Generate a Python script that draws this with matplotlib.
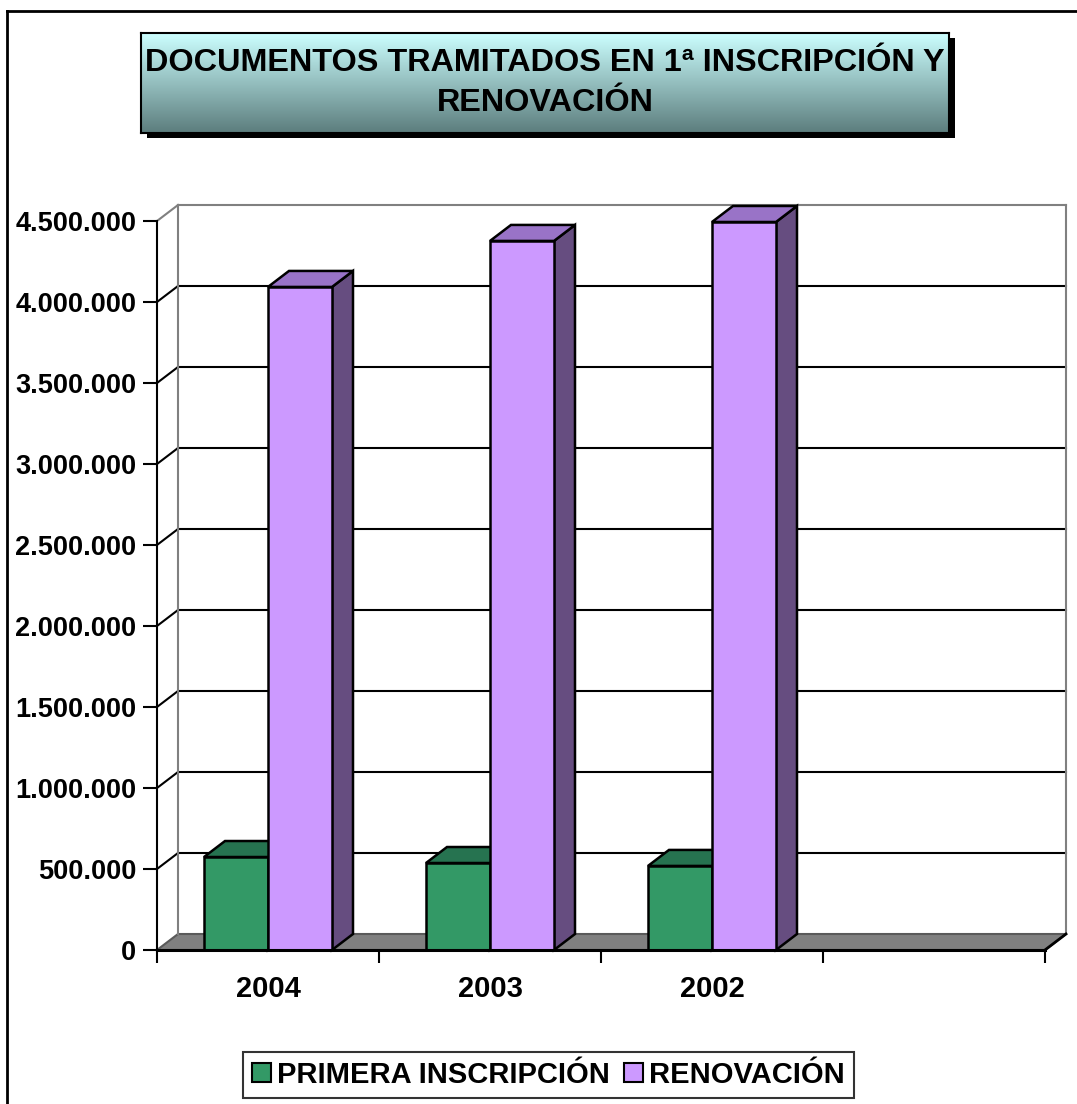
import matplotlib.pyplot as plt
import numpy as np
from matplotlib.patches import Polygon, Rectangle, Patch
from matplotlib.lines import Line2D

plt.rcParams['font.family'] = ['Liberation Sans', 'DejaVu Sans']
plt.rcParams['font.weight'] = 'bold'

categories = ['2004', '2003', '2002', '']
primera = [574000, 537000, 519000]
renovacion = [4093000, 4377000, 4494000]
y_ticks = np.arange(0, 4500001, 500000)
series_names = ['PRIMERA INSCRIPCIÓN', 'RENOVACIÓN']
title = 'DOCUMENTOS TRAMITADOS EN 1ª INSCRIPCIÓN Y\nRENOVACIÓN'

# front / top / side colours for each series
GREEN = ('#339966', '#267350', '#1F5F40')
PURPLE = ('#CC99FF', '#9973C7', '#664D80')
WALL = '#808080'

W, H = 1077, 1104
fig = plt.figure(figsize=(W / 100, H / 100), dpi=100)


def fx(px):
    return px / W


def fy(py):
    return 1 - py / H


# plot area (front plane)
left, right, top, bottom = 157, 1045, 221, 950
ax = fig.add_axes([fx(left), fy(bottom), (right - left) / W, (bottom - top) / H])
n = len(categories)
ymax = y_ticks[-1]
ax.set_xlim(0, n)
ax.set_ylim(0, ymax)

# depth of the box: 21 px to the right, 16 px up
DX = 21 / (right - left) * n
DY = 16 / (bottom - top) * ymax

# floor
floor = Polygon([(0, 0), (n, 0), (n + DX, DY), (DX, DY)], closed=True,
                facecolor=WALL, edgecolor='#5a5a5a', lw=1.5, zorder=1, clip_on=False)
ax.add_patch(floor)
ax.plot([n, n + DX], [0, DY], color='black', lw=2, zorder=2, clip_on=False)

# back wall gridlines and side wall diagonals
for v in y_ticks[1:]:
    c = WALL if v == ymax else 'black'
    ax.plot([DX, n + DX], [v + DY, v + DY], color=c, lw=1.5, zorder=1, clip_on=False)
    ax.plot([0, DX], [v, v + DY], color=c, lw=1.5, zorder=1, clip_on=False)
ax.plot([DX, DX], [DY, ymax + DY], color=WALL, lw=1.5, zorder=1, clip_on=False)
ax.plot([n + DX, n + DX], [DY, ymax + DY], color=WALL, lw=1.5, zorder=1, clip_on=False)


def bar3d(x0, w, h, cols, z):
    front, topc, side = cols
    kw = dict(edgecolor='black', lw=1.8, joinstyle='miter', zorder=z, clip_on=False)
    ax.add_patch(Polygon([(x0 + w, 0), (x0 + w + DX, DY), (x0 + w + DX, h + DY), (x0 + w, h)],
                         facecolor=side, **kw))
    ax.add_patch(Polygon([(x0, h), (x0 + w, h), (x0 + w + DX, h + DY), (x0 + DX, h + DY)],
                         facecolor=topc, **kw))
    ax.add_patch(Rectangle((x0, 0), w, h, facecolor=front, **kw))


bw = 64 / (right - left) * n
for i, (p, r) in enumerate(zip(primera, renovacion)):
    c = i + 0.5
    bar3d(c - bw, bw, p, GREEN, 3 + 2 * i)
    bar3d(c, bw, r, PURPLE, 4 + 2 * i)

# axes
for s in ['top', 'right']:
    ax.spines[s].set_visible(False)
ax.spines['left'].set_linewidth(1.5)
ax.spines['bottom'].set_linewidth(2.2)
ax.spines['left'].set_zorder(10)
ax.spines['bottom'].set_zorder(10)
ax.patch.set_visible(False)

ax.set_yticks(y_ticks, labels=[f'{v:,.0f}'.replace(',', '.') for v in y_ticks])
ax.set_xticks(np.arange(n + 1), labels=[])
ax.set_xticks(np.arange(n) + 0.5, labels=categories, minor=True)
ax.tick_params(axis='y', length=10, width=1.5, pad=5, labelsize=19.5)
ax.tick_params(axis='x', which='major', length=9.5, width=1.5)
ax.tick_params(axis='x', which='minor', length=0, pad=18, labelsize=21)

# title box with drop shadow and vertical gradient
tx0, ty0, tx1, ty1 = 141, 33, 949, 133
shadow = Rectangle((fx(tx0 + 6), fy(ty1 + 5)), (tx1 - tx0) / W, (ty1 - ty0) / H,
                   transform=fig.transFigure, facecolor='black')
fig.add_artist(shadow)
tax = fig.add_axes([fx(tx0), fy(ty1), (tx1 - tx0) / W, (ty1 - ty0) / H])
tax.set_zorder(5)
grad = np.linspace(0, 1, 256)[:, None]
top_c = np.array([0.80, 1.0, 1.0])
bot_c = np.array([0.36, 0.49, 0.49])
img = top_c[None, None, :] * (1 - grad[:, :, None]) + bot_c[None, None, :] * grad[:, :, None]
tax.imshow(img, aspect='auto', extent=(0, 1, 0, 1))
tax.set_xticks([])
tax.set_yticks([])
for s in tax.spines.values():
    s.set_linewidth(1.5)
tax.text(0.5, 0.5, title, ha='center', va='center', fontsize=23.3,
         linespacing=1.46, transform=tax.transAxes)

# outer frame (only top and left edges fall inside the image)
fig.add_artist(Line2D([fx(7), fx(7)], [fy(11), 0], transform=fig.transFigure, color='black', lw=2))
fig.add_artist(Line2D([fx(7), 1], [fy(11), fy(11)], transform=fig.transFigure, color='black', lw=2))

# legend
handles = [Patch(facecolor=GREEN[0], edgecolor='black', lw=1.5),
           Patch(facecolor=PURPLE[0], edgecolor='black', lw=1.5)]
leg = fig.legend(handles=handles, labels=series_names, loc='center',
                 bbox_to_anchor=(fx(548.5), fy(1075)), ncol=2, frameon=True,
                 fancybox=False, edgecolor='black', fontsize=21,
                 handlelength=0.65, handleheight=0.65, handletextpad=0.2,
                 columnspacing=0.5, borderpad=0.3)
leg.get_frame().set_linewidth(1.5)

fig.savefig('out.png', dpi=100)
